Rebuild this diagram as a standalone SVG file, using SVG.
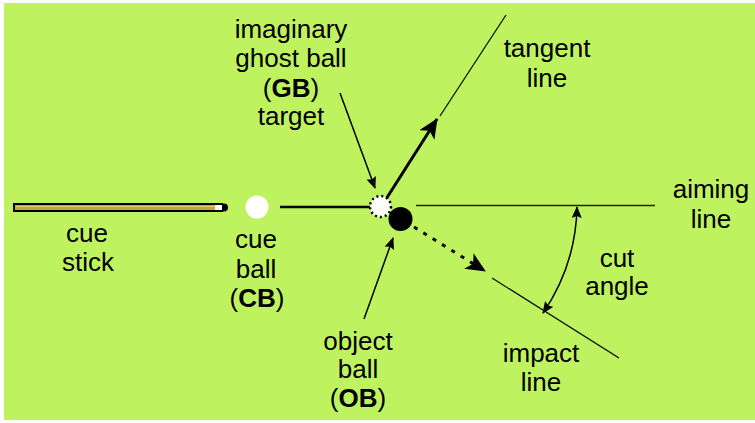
<svg xmlns="http://www.w3.org/2000/svg" width="755" height="423" viewBox="0 0 755 423">
<style>
text{font-family:"Liberation Sans",Arial,sans-serif;font-size:26px;fill:#000;text-anchor:middle}
.b{font-weight:bold}
.thin{stroke:#000;stroke-width:1.2;fill:none}
.ptr{stroke:#000;stroke-width:1.5;fill:none}
</style>
<defs>
<marker id="big" markerUnits="userSpaceOnUse" markerWidth="22" markerHeight="18" refX="19" refY="9" orient="auto" viewBox="0 0 22 18">
<path d="M0,0 L20,9 L0,18 L5,9 Z" fill="#000"/>
</marker>
<marker id="small" markerUnits="userSpaceOnUse" markerWidth="12" markerHeight="10" refX="11" refY="5" orient="auto-start-reverse" viewBox="0 0 12 10">
<path d="M0,0 L12,5 L0,10 L2,5 Z" fill="#000"/>
</marker>
</defs>
<rect x="0" y="0" width="755" height="423" fill="#fff"/>
<rect x="4" y="3" width="751" height="417" fill="#BEF25F"/>

<g id="connectors">
<line x1="280" y1="207" x2="371" y2="207" stroke="#000" stroke-width="2.5"/>
<line x1="416" y1="205.5" x2="655" y2="205.5" stroke="#1a2a00" stroke-width="1.5"/>
<line x1="440" y1="116" x2="506" y2="15" class="thin"/>
<line x1="492" y1="278" x2="619" y2="358" class="thin"/>
<line x1="381" y1="207" x2="437" y2="119" stroke="#000" stroke-width="3" marker-end="url(#big)"/>
<line x1="414" y1="227" x2="485" y2="271" stroke="#000" stroke-width="3" stroke-dasharray="4 7" marker-end="url(#big)"/>
<line x1="340" y1="93" x2="375" y2="188" class="ptr" marker-end="url(#small)"/>
<line x1="364" y1="319" x2="393" y2="238" class="ptr" marker-end="url(#small)"/>
<path d="M577 207 A195 195 0 0 1 543 313" class="ptr" stroke-width="2" marker-start="url(#small)" marker-end="url(#small)"/>
</g>

<g id="cue-stick">
<rect x="14" y="204" width="208" height="7" fill="#C0A63C" stroke="#000" stroke-width="2"/>
<line x1="16" y1="206.5" x2="214" y2="206.5" stroke="#E0CC70" stroke-width="1"/>
<rect x="215" y="205" width="7" height="5" fill="#fff"/>
<path d="M222 203.5 L224 203.5 A4 4 0 0 1 224 211.5 L222 211.5 Z" fill="#000"/>
<text x="87" y="242">cue</text>
<text x="88" y="271">stick</text>
</g>

<g id="cue-ball">
<circle cx="257" cy="207" r="11.5" fill="#fff"/>
<text x="256" y="248">cue</text>
<text x="256" y="278">ball</text>
<text x="257" y="307">(<tspan class="b">CB</tspan>)</text>
</g>

<g id="ghost-ball">
<circle cx="380.5" cy="206.5" r="10.5" fill="#fff" stroke="#000" stroke-width="2.5" stroke-dasharray="2 3"/>
<text x="291" y="38">imaginary</text>
<text x="291" y="67">ghost ball</text>
<text x="291" y="97">(<tspan class="b">GB</tspan>)</text>
<text x="291" y="125">target</text>
</g>

<g id="object-ball">
<circle cx="400.5" cy="219" r="12" fill="#000"/>
<text x="358" y="350">object</text>
<text x="358" y="378">ball</text>
<text x="358" y="407">(<tspan class="b">OB</tspan>)</text>
</g>

<g id="tangent-label">
<text x="547" y="57">tangent</text>
<text x="547" y="87">line</text>
</g>
<g id="aiming-label">
<text x="711" y="198">aiming</text>
<text x="711" y="228">line</text>
</g>
<g id="cut-angle-label">
<text x="617" y="267">cut</text>
<text x="617" y="295">angle</text>
</g>
<g id="impact-label">
<text x="541" y="362">impact</text>
<text x="541" y="391">line</text>
</g>
</svg>
